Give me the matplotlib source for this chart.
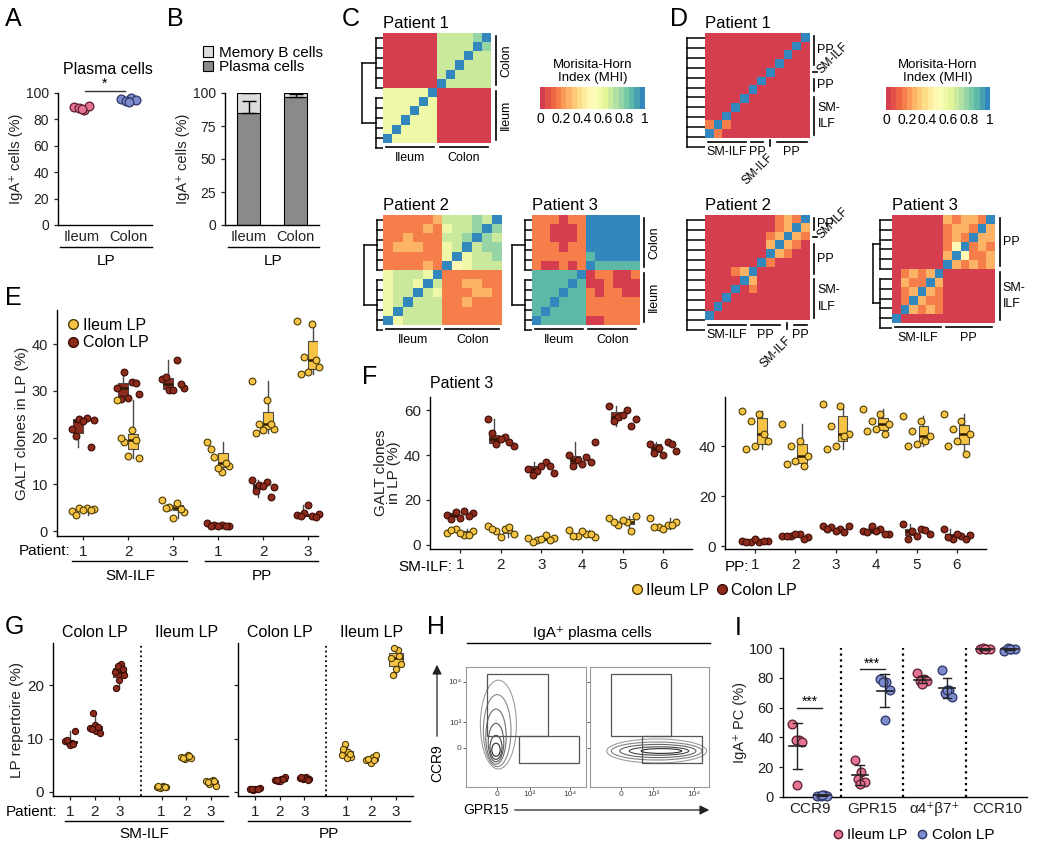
import numpy as np
import matplotlib
matplotlib.use("Agg")
import matplotlib.pyplot as plt
from matplotlib.colors import LinearSegmentedColormap, Normalize
from matplotlib.cm import ScalarMappable
from matplotlib.lines import Line2D
from matplotlib.patches import Rectangle, Ellipse, FancyArrowPatch

plt.rcParams["font.family"] = ["Liberation Sans", "DejaVu Sans"]
plt.rcParams["axes.linewidth"] = 1.0

# ---------------- data ----------------
# A
a_ileum = [89.5, 87.0, 88.5, 90.0, 88.0]
a_colon = [95.5, 96.0, 94.0, 95.0, 93.5]

# B
b_groups = ["Ileum", "Colon"]
b_plasma = [85, 97]
b_memory = [15, 3]
b_plasma_err = [9, 2]
b_total_err = [8, 3]

# C / D  Morisita-Horn index, rows top->bottom, code: digit d -> d/10+0.05, X -> 1
mhi_c1 = ["00000066667X", "0000006666X7", "000000666X66", "00000066X666",
          "0000006X6666", "000000X66666", "55555X000000", "5555X5000000",
          "555X55000000", "55X555000000", "5X5555000000", "X55555000000"]
mhi_c2 = ["11111266676X", "1111215667X7", "112111667X76", "12221156X677",
          "1111115X5667", "111121X45666", "56665X111111", "5665X6112211",
          "566X65111221", "56X666112111", "5X6666111111", "X56666111111"]
mhi_c3 = ["11101199999X", "1100019999X9", "110001999X99", "11101199X999",
          "1111118X9999", "100101X88888", "88888X011001", "8888X8001000",
          "888X88101100", "88X888111111", "8X8888111111", "X88888001111"]
mhi_d1 = ["00000000000X", "0000000000X0", "000000000X00", "00000000X000",
          "0000000X0000", "000000X00000", "00000X000000", "0000X0000000",
          "000X00000000", "00X000000000", "1X1000000000", "X10000000000"]
mhi_d2 = ["00000000121X", "0000000012X2", "000000012X21", "00000002X210",
          "0000000X2100", "000000X10000", "00012X000000", "0000X2000000",
          "000X01000000", "00X000000000", "0X0000000000", "X00000000000"]
mhi_d3 = ["00000021221X", "0000001221X2", "000000121X22", "00000014X121",
          "0000002X4112", "000000X21212", "01212X000000", "0211X2000000",
          "012X21000000", "01X211000000", "0X2121000000", "X00000000000"]

# E
e_ileum_smilf = [[4.2, 5.0, 5.0, 4.8, 4.6, 3.4, 4.4],
                 [28.0, 21.7, 19.0, 15.6, 16.0, 20.0, 19.5],
                 [6.7, 6.0, 5.2, 4.0, 2.8, 5.0, 4.8]]
e_colon_smilf = [[21.8, 24.2, 24.0, 23.8, 23.6, 20.3, 18.0],
                 [30.5, 31.8, 34.0, 29.3, 28.5, 28.2, 31.7],
                 [32.5, 36.7, 30.2, 30.5, 30.2, 33.0, 31.5]]
e_ileum_pp = [[19.0, 12.7, 15.8, 14.0, 13.5, 17.5, 14.6],
              [32.2, 28.0, 22.8, 21.8, 21.7, 21.0, 23.0],
              [45.0, 44.3, 37.2, 35.2, 34.0, 33.5, 36.5]]
e_colon_pp = [[1.8, 1.3, 1.2, 1.1, 1.0, 1.0, 1.0],
              [11.0, 10.5, 9.8, 9.5, 9.7, 8.5, 7.2],
              [3.5, 3.3, 3.8, 3.6, 5.5, 3.2, 3.0]]

# F (patient 3)
f_colon_smilf = [[13.5, 15.0, 14.5, 14.0, 12.0, 11.5, 13.0],
                 [56.0, 48.0, 45.0, 44.0, 47.0, 50.0, 46.0],
                 [34.0, 37.0, 33.0, 32.0, 35.0, 31.0, 35.0],
                 [40.0, 39.0, 38.0, 46.0, 36.0, 35.0, 37.0],
                 [62.0, 60.0, 57.0, 56.0, 58.0, 55.0, 53.0],
                 [45.0, 46.0, 43.0, 42.0, 40.0, 41.0, 45.0]]
f_ileum_smilf = [[5.5, 4.5, 7.0, 6.0, 5.5, 6.5, 4.5],
                 [8.5, 7.0, 6.0, 5.0, 3.5, 7.0, 8.0],
                 [3.0, 4.5, 2.0, 3.0, 2.5, 1.5, 2.0],
                 [6.5, 5.0, 4.0, 3.5, 6.0, 4.0, 5.0],
                 [12.0, 10.0, 9.0, 13.0, 11.0, 10.0, 6.0],
                 [12.0, 9.0, 8.0, 10.0, 7.0, 8.0, 9.0]]
f_ileum_pp = [[54.0, 53.0, 50.0, 42.0, 40.0, 39.0, 45.0],
              [49.0, 42.0, 40.0, 36.0, 34.0, 33.0, 32.0],
              [57.0, 56.0, 48.0, 45.0, 40.0, 39.0, 44.0],
              [55.0, 53.0, 50.0, 49.0, 47.0, 46.0, 45.0],
              [52.0, 50.0, 46.0, 44.0, 41.0, 40.0, 42.0],
              [53.0, 50.0, 47.0, 45.0, 42.0, 40.0, 37.0]]
f_colon_pp = [[2.0, 1.5, 1.5, 2.0, 3.0, 1.5, 2.0],
              [4.0, 5.0, 4.0, 3.5, 5.0, 4.0, 3.0],
              [8.0, 7.0, 7.5, 8.0, 6.0, 7.0, 5.5],
              [6.0, 7.0, 8.0, 5.0, 6.0, 5.5, 5.0],
              [9.0, 7.0, 6.0, 5.0, 4.0, 3.0, 6.5],
              [7.0, 4.0, 3.0, 4.5, 5.0, 3.5, 3.0]]

# G
g_colon_smilf = [[9.5, 9.2, 9.3, 11.5, 8.8, 9.7, 9.0],
                 [12.0, 11.5, 14.8, 11.0, 12.5, 11.8, 12.2],
                 [22.5, 24.0, 23.5, 22.0, 21.0, 19.5, 23.0]]
g_ileum_smilf = [[1.0, 1.2, 0.8, 0.9, 1.0, 1.1, 0.9],
                 [6.5, 7.0, 6.2, 6.4, 6.6, 6.3, 6.8],
                 [2.0, 2.3, 1.5, 1.2, 2.0, 1.8, 2.1]]
g_colon_pp = [[0.5, 0.6, 0.4, 0.7, 0.5, 0.6, 0.5],
              [2.2, 2.5, 2.0, 2.8, 2.1, 2.3, 2.4],
              [2.6, 2.8, 2.4, 2.5, 2.7, 2.9, 2.3]]
g_ileum_pp = [[7.0, 7.5, 9.0, 6.5, 6.3, 8.0, 7.2],
              [6.0, 6.5, 5.8, 7.0, 5.5, 6.2, 6.0],
              [25.0, 26.5, 27.0, 24.0, 23.0, 22.0, 25.5]]

# H  contour rings (x, y, w, h) and gates (x, y, w, h), in plot units 0-100
h_left_rings = [(27, 52, 30, 74), (26, 47, 23, 60), (25, 42, 17, 46),
                (25, 37, 13, 32), (25, 33, 10, 20), (25, 31, 7, 11)]
h_right_rings = [(56, 30, 84, 20), (56, 30, 76, 15), (57, 30, 64, 11),
                 (58, 30, 50, 7), (60, 30, 34, 4)]
h_gates = [(17.5, 42.5, 50.5, 51.5), (44, 20, 50, 22.5)]

# I
i_markers = ["CCR9", "GPR15", "α4⁺β7⁺", "CCR10"]
i_ileum = [[49, 38, 38, 37, 8], [25, 17, 12, 10, 9],
           [83, 79, 78, 78, 76], [99.5, 99, 100, 99.5, 99]]
i_colon = [[1.0, 1.2, 0.8, 1.0, 1.1], [79, 77, 77, 72, 52],
           [85, 72, 70, 67, 72], [98, 99.5, 100, 99, 99.5]]

# ---------------- styles ----------------
YEL, YEL_E = "#f6c344", "#4d3d05"
RED, RED_E = "#8c2a1c", "#3b0d06"
PINK, PINK_E = "#e57392", "#5a1d2d"
BLUE, BLUE_E = "#7d8ccc", "#2d3566"
cmap = LinearSegmentedColormap.from_list(
    "mhi", ["#d53e4f", "#f46d43", "#fdae61", "#fee08b", "#ffffbf",
            "#e6f598", "#abdda4", "#66c2a5", "#3288bd"], N=20)

W, H = 1050, 849
fig = plt.figure(figsize=(W / 100, H / 100), dpi=100)


def px_axes(x0, y0, x1, y1):
    return fig.add_axes([x0 / W, 1 - y1 / H, (x1 - x0) / W, (y1 - y0) / H])


def ftext(x, y, s, **kw):
    kw.setdefault("ha", "center")
    kw.setdefault("va", "center")
    fig.text(x / W, 1 - y / H, s, **kw)


def fline(x0, y0, x1, y1, lw=1.0, color="k"):
    fig.add_artist(Line2D([x0 / W, x1 / W], [1 - y0 / H, 1 - y1 / H],
                          transform=fig.transFigure, color=color, lw=lw))


def style(ax, size=10):
    for s in ["top", "right"]:
        ax.spines[s].set_visible(False)
    ax.tick_params(direction="out", length=3, width=0.9, labelsize=size,
                   colors="#222222")


JIT = np.array([-0.9, 0.3, -0.3, 0.9, 0.0, -0.6, 0.6, 0.15, -0.15])


def boxes_points(ax, pos, groups, fc, ec, off, width, spread, s=24, box=True):
    pos = np.asarray(pos, float)
    if box:
        ax.boxplot(groups, positions=pos + off, widths=width, patch_artist=True,
                   showfliers=False, whis=(0, 100), showcaps=False,
                   manage_ticks=False,
                   boxprops=dict(facecolor=fc, edgecolor="#4a4a4a", lw=0.8),
                   medianprops=dict(color="#2a1a05", lw=1.8),
                   whiskerprops=dict(color="#4a4a4a", lw=1.0))
    for p, vals in zip(pos, groups):
        ax.scatter(p + JIT[:len(vals)] * spread, vals, s=s, c=fc, edgecolors=ec,
                   linewidths=0.8, zorder=3, clip_on=False)


def decode(rows):
    def val(c):
        if c == "X":
            return 1.0
        return 0.02 if c == "0" else int(c) / 10 + 0.05
    return np.array([[val(c) for c in r] for r in rows])


def heat(rect, rows, title):
    ax = px_axes(*rect)
    ax.imshow(decode(rows), cmap=cmap, vmin=0, vmax=1, aspect="auto",
              interpolation="nearest", extent=(-0.5, 11.5, 11.5, -0.5))
    ax.set_xticks([])
    ax.set_yticks([])
    for s in ax.spines.values():
        s.set_visible(False)
    ax.text(0, 1.015, title, transform=ax.transAxes, ha="left", va="bottom",
            fontsize=12)
    return ax


def brackets(ax, right, bottom, rotate):
    for a, b, lab in right:
        y = (a + b) / 2
        if a == b:
            ax.plot([12.0, 12.45], [y, y], color="k", lw=1.2, clip_on=False)
            ax.text(12.7, y, lab, rotation=45, rotation_mode="anchor",
                    ha="left", va="center", fontsize=8.5)
        else:
            ax.plot([12.1, 12.1], [a - 0.2, b + 0.2], color="k", lw=1.2,
                    clip_on=False)
            if rotate:
                ax.text(12.5, y, lab, rotation=90, ha="left", va="center",
                        fontsize=9)
            else:
                ax.text(12.45, y, lab, ha="left", va="center", fontsize=9,
                        linespacing=1.5)
    for a, b, lab in bottom:
        x = (a + b) / 2
        if a == b:
            ax.plot([x, x], [11.8, 12.5], color="k", lw=1.2, clip_on=False)
            ax.text(x + 0.2, 13.6, lab, rotation=45, rotation_mode="anchor",
                    ha="right", va="center", fontsize=8.5)
        else:
            ax.plot([a - 0.2, b + 0.2], [12.0, 12.0], color="k", lw=1.2,
                    clip_on=False)
            ax.text(x, 12.5, lab, ha="center", va="top", fontsize=9)


def dendro(rect, groups, inner, outer=None):
    ax = px_axes(*rect)
    ax.set_xlim(0, 1)
    ax.set_ylim(11.5, -0.5)
    ax.axis("off")
    centers = []
    for start, n in groups:
        leaves = np.arange(start, start + n)
        for y in leaves:
            ax.plot([1, 1 - inner], [y, y], color="k", lw=1.1)
        ax.plot([1 - inner, 1 - inner], [leaves[0], leaves[-1]], color="k", lw=1.1)
        centers.append(leaves.mean())
    if outer is not None:
        for c in centers:
            ax.plot([1 - inner, 1 - outer], [c, c], color="k", lw=1.1)
        ax.plot([1 - outer, 1 - outer], [centers[0], centers[-1]], color="k", lw=1.1)


def colorbar(rect):
    cax = px_axes(*rect)
    cb = fig.colorbar(ScalarMappable(norm=Normalize(0, 1), cmap=cmap), cax=cax,
                      orientation="horizontal", ticks=[0, .2, .4, .6, .8, 1])
    cb.outline.set_visible(False)
    cax.set_xticklabels(["0", "0.2", "0.4", "0.6", "0.8", "1"])
    cax.tick_params(length=0, labelsize=10, pad=2)
    cax.set_title("Morisita-Horn\nIndex (MHI)", fontsize=9.5, pad=4)


# ---------------- panel letters ----------------
for lab, x, y in [("A", 5, 19), ("B", 167, 19), ("C", 342, 19), ("D", 670, 19),
                  ("E", 5, 298), ("F", 362, 377), ("G", 5, 627), ("H", 427, 627),
                  ("I", 735, 628)]:
    ftext(x, y, lab, ha="left", fontsize=18)

# ---------------- A ----------------
ax = px_axes(58, 93, 152, 225)
style(ax)
ax.scatter(0 + JIT[:5] * 0.18, a_ileum, s=40, c=PINK, edgecolors=PINK_E,
           linewidths=0.9, zorder=3, clip_on=False)
ax.scatter(1 + JIT[:5] * 0.18, a_colon, s=40, c=BLUE, edgecolors=BLUE_E,
           linewidths=0.9, zorder=3, clip_on=False)
ax.plot([0.08, 0.92], [101.5, 101.5], color="#333", lw=1, clip_on=False)
ax.text(0.5, 102, "*", ha="center", va="bottom", fontsize=10)
ax.set_xlim(-0.5, 1.5)
ax.set_ylim(0, 100)
ax.set_yticks([0, 20, 40, 60, 80, 100])
ax.set_xticks([0, 1])
ax.set_xticklabels(["Ileum", "Colon"], fontsize=10.5)
ax.tick_params(axis="x", length=0)
ax.set_ylabel("IgA⁺ cells (%)", fontsize=10.5, color="#222", labelpad=2)
ftext(108, 70, "Plasma cells", fontsize=11.5)
fline(60, 247, 152, 247)
ftext(106, 261, "LP", fontsize=11)

# ---------------- B ----------------
ax = px_axes(225, 93, 319, 225)
style(ax)
xb = np.arange(2)
ax.bar(xb, b_plasma, width=0.51, color="#8a8a8a", edgecolor="k", lw=0.8,
       yerr=[[0, 0], b_plasma_err], error_kw=dict(lw=1, capsize=5, capthick=1))
ax.bar(xb, b_memory, bottom=b_plasma, width=0.51, color="#dcdcdc", edgecolor="k",
       lw=0.8, yerr=[[0, 0], b_total_err], error_kw=dict(lw=1, capsize=5, capthick=1))
ax.set_xlim(-0.5, 1.5)
ax.set_ylim(0, 100)
ax.set_yticks([0, 25, 50, 75, 100])
ax.set_xticks(xb)
ax.set_xticklabels(b_groups, fontsize=10.5)
ax.tick_params(axis="x", length=0)
ax.set_ylabel("IgA⁺ cells (%)", fontsize=10.5, color="#222", labelpad=2)
fig.legend(handles=[Rectangle((0, 0), 1, 1, fc="#dcdcdc", ec="k", lw=0.8),
                    Rectangle((0, 0), 1, 1, fc="#8a8a8a", ec="k", lw=0.8)],
           labels=["Memory B cells", "Plasma cells"], loc="upper left",
           bbox_to_anchor=(195 / W, 1 - 38 / H), frameon=False, fontsize=11,
           handlelength=0.7, handleheight=0.7, handletextpad=0.4,
           labelspacing=0.05, borderpad=0)
fline(228, 247, 319, 247)
ftext(273, 261, "LP", fontsize=11)

# ---------------- C ----------------
c_right = [(0, 5, "Colon"), (6, 11, "Ileum")]
c_bottom = [(0, 5, "Ileum"), (6, 11, "Colon")]
hx = heat((383, 33, 502, 153), mhi_c1, "Patient 1")
brackets(hx, c_right, c_bottom, True)
dendro((360, 33, 383, 153), [(0, 6), (6, 6)], 0.3, 0.9)
hx = heat((383, 215, 502, 335), mhi_c2, "Patient 2")
brackets(hx, [], c_bottom, True)
dendro((362, 215, 383, 335), [(0, 6), (6, 6)], 0.3, 0.9)
hx = heat((532, 215, 650, 335), mhi_c3, "Patient 3")
brackets(hx, c_right, c_bottom, True)
dendro((510, 215, 532, 335), [(0, 6), (6, 6)], 0.3, 0.9)
colorbar((540, 87, 645, 109))

# ---------------- D ----------------
hx = heat((705, 33, 823, 152), mhi_d1, "Patient 1")
brackets(hx, [(0, 3, "PP"), (4, 4, "SM-ILF"), (5, 6, "PP"), (7, 11, "SM-\nILF")],
         [(0, 4, "SM-ILF"), (5, 6, "PP"), (7, 7, "SM-ILF"), (8, 11, "PP")], False)
dendro((684, 33, 705, 152), [(0, 12)], 0.85)
hx = heat((705, 215, 823, 335), mhi_d2, "Patient 2")
brackets(hx, [(0, 1, "PP"), (2, 2, "SM-ILF"), (3, 6, "PP"), (7, 11, "SM-\nILF")],
         [(0, 4, "SM-ILF"), (5, 8, "PP"), (9, 9, "SM-ILF"), (10, 11, "PP")], False)
dendro((684, 215, 705, 335), [(0, 12)], 0.85)
hx = heat((892, 215, 1005, 333), mhi_d3, "Patient 3")
brackets(hx, [(0, 5, "PP"), (6, 11, "SM-\nILF")],
         [(0, 5, "SM-ILF"), (6, 11, "PP")], False)
dendro((870, 215, 892, 333), [(0, 6), (6, 6)], 0.55, 0.85)
colorbar((886, 87, 990, 110))

# ---------------- E ----------------
ax = px_axes(57, 310, 318, 536)
style(ax, 10.5)
pos = np.arange(1, 7)
boxes_points(ax, pos, e_colon_smilf + e_colon_pp, RED, RED_E, -0.11, 0.22, 0.28)
boxes_points(ax, pos, e_ileum_smilf + e_ileum_pp, YEL, YEL_E, 0.11, 0.22, 0.28)
ax.set_xlim(0.42, 6.22)
ax.set_ylim(-1.07, 47.3)
ax.set_yticks([0, 10, 20, 30, 40])
ax.set_xticks(pos)
ax.set_xticklabels(["1", "2", "3", "1", "2", "3"], fontsize=11)
ax.set_ylabel("GALT clones in LP (%)", fontsize=11, color="#222", labelpad=2)
leg_h = [Line2D([], [], marker="o", ls="", mfc=YEL, mec=YEL_E, ms=7),
         Line2D([], [], marker="o", ls="", mfc=RED, mec=RED_E, ms=7)]
ax.legend(leg_h, ["Ileum LP", "Colon LP"], loc="upper left", frameon=False,
          fontsize=11.5, handletextpad=0.1, handlelength=1, labelspacing=0.15,
          borderaxespad=0.1, bbox_to_anchor=(0.0, 1.0))
ftext(70, 551, "Patient:", ha="right", fontsize=11)
fline(72, 561, 187, 561)
fline(205, 561, 318, 561)
ftext(130, 576, "SM-ILF", fontsize=11)
ftext(262, 576, "PP", fontsize=11)

# ---------------- F ----------------
ax = px_axes(430, 397, 692, 549)
style(ax, 11)
boxes_points(ax, pos, f_colon_smilf, RED, RED_E, -0.17, 0.24, 0.36)
boxes_points(ax, pos, f_ileum_smilf, YEL, YEL_E, 0.17, 0.24, 0.36)
ax.set_xlim(0.26, 6.71)
ax.set_ylim(-1.8, 65.8)
ax.set_yticks([0, 20, 40, 60])
ax.set_xticks(pos)
ax.set_xticklabels([str(p) for p in pos], fontsize=11)
ax.set_ylabel("GALT clones\nin LP (%)", fontsize=11, color="#222",
              labelpad=2, linespacing=0.95)
ax.text(0.0, 1.04, "Patient 3", transform=ax.transAxes, ha="left",
        va="bottom", fontsize=11.5)
ftext(452, 567, "SM-ILF:", ha="right", fontsize=11)

ax = px_axes(725, 397, 986, 549)
style(ax, 11)
boxes_points(ax, pos, f_colon_pp, RED, RED_E, -0.17, 0.24, 0.36)
boxes_points(ax, pos, f_ileum_pp, YEL, YEL_E, 0.17, 0.24, 0.36)
ax.set_xlim(0.26, 6.72)
ax.set_ylim(-1.2, 59.8)
ax.set_yticks([0, 20, 40])
ax.set_xticks(pos)
ax.set_xticklabels([str(p) for p in pos], fontsize=11)
ftext(749, 567, "PP:", ha="right", fontsize=11)
fig.legend(leg_h, ["Ileum LP", "Colon LP"], loc="center",
           bbox_to_anchor=(713 / W, 1 - 590 / H), ncol=2, frameon=False,
           fontsize=11.5, handletextpad=0.05, handlelength=1, columnspacing=0.3)

# ---------------- G ----------------
g_pos_a = np.array([1, 2, 3])
g_pos_b = np.array([4.7, 5.7, 6.7])
g_sets = [(53, 228, g_colon_smilf, g_ileum_smilf, True),
          (238, 413, g_colon_pp, g_ileum_pp, False)]
for x0, x1, colon, ileum, first in g_sets:
    ax = px_axes(x0, 643, x1, 796)
    style(ax, 11)
    boxes_points(ax, g_pos_a, colon, RED, RED_E, 0, 0.55, 0.22, s=20)
    boxes_points(ax, g_pos_b, ileum, YEL, YEL_E, 0, 0.55, 0.22, s=20)
    ax.axvline(3.85, color="k", ls=":", lw=1.3)
    ax.set_xlim(0.31, 7.39)
    ax.set_ylim(-0.75, 27.9)
    ax.set_yticks([0, 10, 20])
    ax.set_xticks(np.concatenate([g_pos_a, g_pos_b]))
    ax.set_xticklabels(["1", "2", "3", "1", "2", "3"], fontsize=11)
    if first:
        ax.set_ylabel("LP repertoire (%)", fontsize=11, color="#222", labelpad=2)
    else:
        ax.set_yticklabels([])
    ax.text(2, 1.02, "Colon LP", transform=ax.get_xaxis_transform(),
            ha="center", va="bottom", fontsize=11.5)
    ax.text(5.7, 1.02, "Ileum LP", transform=ax.get_xaxis_transform(),
            ha="center", va="bottom", fontsize=11.5)
ftext(57, 812, "Patient:", ha="right", fontsize=11)
fline(65, 821, 223, 821)
fline(248, 821, 410, 821)
ftext(144, 834, "SM-ILF", fontsize=11)
ftext(329, 834, "PP", fontsize=11)

# ---------------- H ----------------
ftext(592, 633, "IgA⁺ plasma cells", fontsize=11)
fline(467, 643, 710, 643)
for (x0, x1), rings, first in [((466, 586), h_left_rings, True),
                                ((590, 709), h_right_rings, False)]:
    ax = px_axes(x0, 667, x1, 787)
    ax.set_xlim(0, 100)
    ax.set_ylim(0, 100)
    for s in ax.spines.values():
        s.set_color("#999999")
        s.set_linewidth(0.8)
    n = len(rings)
    for k, (cx, cy, w, h) in enumerate(rings):
        g = 0.62 - 0.45 * k / max(n - 1, 1)
        ax.add_patch(Ellipse((cx, cy), w, h, fill=False,
                             ec=(g, g, g), lw=0.8))
    for gx, gy, gw, gh in h_gates:
        ax.add_patch(Rectangle((gx, gy), gw, gh, fill=False, ec="#555555", lw=0.9))
    ax.set_xticks([25.8, 53, 87])
    ax.set_xticklabels(["0", "10³", "10⁴"], fontsize=6)
    ax.set_yticks([32.5, 54, 87.5])
    ax.set_yticklabels(["0", "10³", "10⁴"] if first else [], fontsize=6)
    ax.tick_params(length=2, width=0.6, colors="#444444", pad=1)
ftext(437, 763, "CCR9", rotation=90, fontsize=10)
fig.add_artist(FancyArrowPatch((437 / W, 1 - 739 / H), (437 / W, 1 - 662 / H),
                               transform=fig.transFigure, arrowstyle="-|>",
                               mutation_scale=14, color="#222", lw=0.9))
ftext(463, 810, "GPR15", ha="left", fontsize=10)
fig.add_artist(FancyArrowPatch((512 / W, 1 - 810 / H), (712 / W, 1 - 810 / H),
                               transform=fig.transFigure, arrowstyle="-|>",
                               mutation_scale=14, color="#222", lw=0.9))

# ---------------- I ----------------
ax = px_axes(783, 648, 1027, 797)
style(ax, 10.5)
xi = np.arange(4)
for vals_list, off, fc, ec in [(i_ileum, -0.2, PINK, PINK_E),
                               (i_colon, 0.2, BLUE, BLUE_E)]:
    for x, vals in zip(xi, vals_list):
        vals = np.asarray(vals, float)
        ax.scatter(x + off + JIT[:len(vals)] * 0.09, vals, s=40, c=fc,
                   edgecolors=ec, linewidths=0.9, zorder=3, clip_on=False)
        m, sd = vals.mean(), vals.std(ddof=1)
        ax.plot([x + off - 0.13, x + off + 0.13], [m, m], color="#222", lw=1.2, zorder=4)
        ax.plot([x + off, x + off], [m - sd, m + sd], color="#222", lw=1.0, zorder=4)
        for yy in (m - sd, m + sd):
            ax.plot([x + off - 0.07, x + off + 0.07], [yy, yy], color="#222",
                    lw=1.0, zorder=4)
for x, ysig in [(0, 60), (1, 86)]:
    ax.plot([x - 0.2, x + 0.2], [ysig, ysig], color="#222", lw=1)
    ax.text(x, ysig - 1, "***", ha="center", va="bottom", fontsize=10)
for xv in [0.5, 1.5, 2.5]:
    ax.axvline(xv, color="k", ls=":", lw=1.6, ymax=1.0)
ax.set_xlim(-0.43, 3.48)
ax.set_ylim(0, 100)
ax.set_yticks([0, 20, 40, 60, 80, 100])
ax.set_xticks(xi)
ax.set_xticklabels(i_markers, fontsize=11)
ax.tick_params(axis="x", length=0)
ax.set_ylabel("IgA⁺ PC (%)", fontsize=10.5, color="#222", labelpad=2)
fig.legend([Line2D([], [], marker="o", ls="", mfc=PINK, mec=PINK_E, ms=6),
            Line2D([], [], marker="o", ls="", mfc=BLUE, mec=BLUE_E, ms=6)],
           ["Ileum LP", "Colon LP"], loc="center",
           bbox_to_anchor=(912 / W, 1 - 835 / H), ncol=2, frameon=False,
           fontsize=11, handletextpad=0.1, handlelength=1, columnspacing=0.5)

fig.savefig("out.png", dpi=100)
